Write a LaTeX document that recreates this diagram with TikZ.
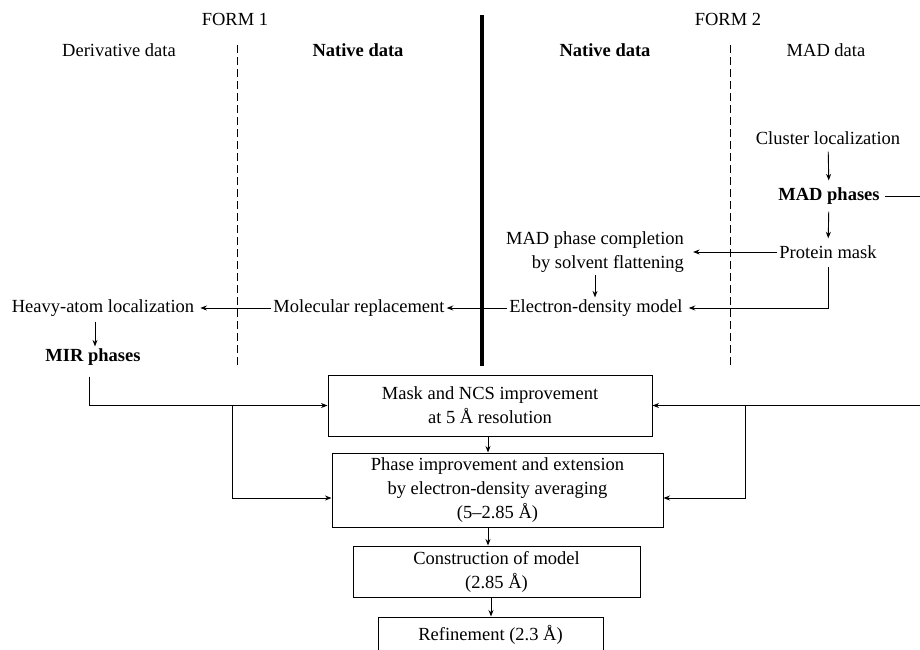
\documentclass[tikz,border=0pt]{standalone}
\usepackage{fontspec}
\setmainfont{Liberation Serif}
\usetikzlibrary{arrows.meta}
\begin{document}
\begin{tikzpicture}[x=1pt,y=-1pt,
  txt/.style={inner sep=2pt, font=\fontsize{18.5}{24}\selectfont},
  boldtxt/.style={inner sep=2pt, font=\fontsize{18.5}{24}\selectfont\bfseries},
  boxn/.style={draw, line width=1pt, inner sep=0pt, align=center, font=\fontsize{18.5}{24}\selectfont},
  ln/.style={line width=0.9pt},
  arr/.style={line width=0.9pt, -{Stealth[length=6.5pt,width=5pt]}},
  varr/.style={arr, shorten <=5pt, shorten >=5pt},
  dline/.style={line width=1pt, dash pattern=on 8pt off 4pt},
]
\useasboundingbox (0,0) rectangle (920,649);

% headers
\node[txt] (form1) at (235,19) {FORM 1};
\node[txt] (form2) at (728,19) {FORM 2};
\node[txt] (deriv) at (119,50) {Derivative data};
\node[boldtxt] (nat1) at (358,50) {Native data};
\node[boldtxt] (nat2) at (605,50) {Native data};
\node[txt] (maddata) at (826,50) {MAD data};

% separators
\coordinate (tk1) at (482,15);
\coordinate (tk2) at (482,366);
\draw[line width=3.5pt] (tk1) -- (tk2);
\coordinate (dl1) at (237,45);
\coordinate (dl2) at (237,368);
\draw[dline] (dl1) -- (dl2);
\coordinate (dr1) at (730,45);
\coordinate (dr2) at (730,368);
\draw[dline] (dr1) -- (dr2);

% form 2 nodes
\node[txt] (cluster) at (828,138) {Cluster localization};
\node[boldtxt] (madph) at (829,196) {MAD phases};
\node[txt] (pmask) at (828,252) {Protein mask};
\node[txt, align=right] (madcomp) at (595,252) {MAD phase completion\\by solvent flattening};
\node[txt] (edm) at (596,308) {Electron-density model};

% form 1 nodes
\node[txt] (molrep) at (359,308) {Molecular replacement};
\node[txt] (heavy) at (103,308) {Heavy-atom localization};
\node[boldtxt] (mir) at (93,357) {MIR phases};

% boxes
\node[boxn, minimum width=324, minimum height=61] (maskbox) at (490,405.5)
  {Mask and NCS improvement\\at 5 Å resolution};
\node[boxn, minimum width=331, minimum height=74] (phasebox) at (497.5,490)
  {Phase improvement and extension\\by electron-density averaging\\(5–2.85 Å)};
\node[boxn, minimum width=287, minimum height=51] (constr) at (496.5,571.5)
  {Construction of model\\(2.85 Å)};
\node[boxn, minimum width=225, minimum height=36] (refine) at (490.5,635)
  {Refinement (2.3 Å)};

% connectors form 2
\draw[varr] (cluster) -- (madph);
\draw[varr] (madph) -- (pmask);
\draw[arr, shorten >=7pt] (pmask.west) -- (madcomp.east |- pmask.west);
\draw[arr] (madcomp.south) -- (madcomp.south |- edm.north);
\draw[arr, shorten <=6pt, shorten >=4pt] (pmask.south) |- (edm.east);
\draw[arr] (edm.west) -- (molrep.east);
\draw[arr, shorten >=4pt] (molrep.west) -- (heavy.east);
\coordinate (h1) at (95,0);
\draw[arr, shorten <=3pt] (heavy.south -| h1) -- (mir.north -| h1);

% MIR phases to boxes
\coordinate (m1) at (89,0);
\draw[arr, shorten <=9pt] (mir.south -| m1) |- (maskbox.west);
\coordinate (jl) at (232,405.5);
\draw[arr] (jl) |- ([yshift=-8pt]phasebox.west);

% MAD phases to boxes (loop runs off the right edge)
\coordinate (off1) at (945,196);
\coordinate (off2) at (945,405.5);
\draw[arr, shorten <=3pt] (madph.east) -- (off1) -- (off2) -- (maskbox.east);
\coordinate (jr) at (745,405.5);
\draw[arr] (jr) |- ([yshift=-8pt]phasebox.east);

% box chain
\coordinate (b1) at (488,0);
\coordinate (b2) at (491,0);
\draw[arr] (maskbox.south -| b1) -- (phasebox.north -| b1);
\draw[arr] (phasebox.south -| b1) -- (constr.north -| b1);
\draw[arr] (constr.south -| b2) -- (refine.north -| b2);
\end{tikzpicture}
\end{document}
